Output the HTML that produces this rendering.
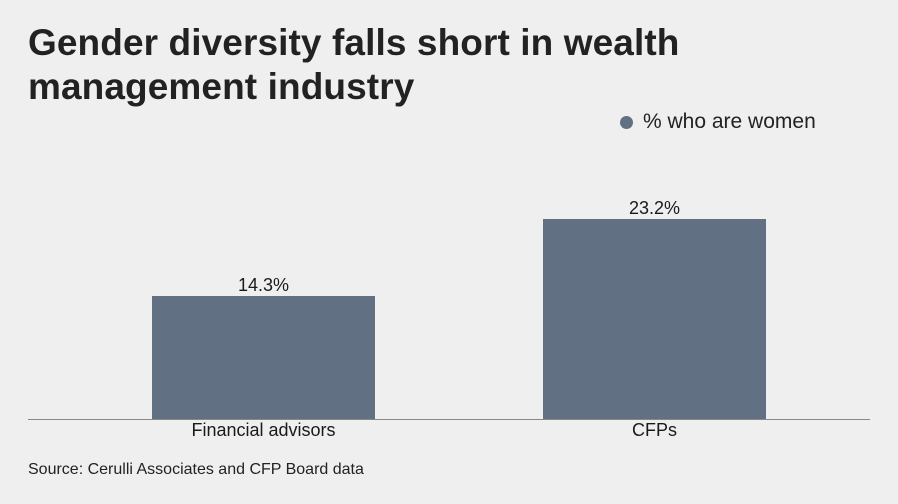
<!DOCTYPE html>
<html><head><meta charset="utf-8"><style>
body{margin:0;width:898px;height:504px;background:#efefef;font-family:"Liberation Sans",sans-serif;position:relative;overflow:hidden;color:#1a1a1a}
.t{position:absolute;left:28px;top:21px;font-size:37px;font-weight:bold;line-height:44px;color:#222;letter-spacing:0.1px}
.bar{position:absolute;background:#627084}
.lbl{position:absolute;font-size:18px;text-align:center;width:223px}
</style></head><body>
<div class="t">Gender diversity falls short in wealth<br>management industry</div>
<div style="position:absolute;left:620px;top:116px;width:13px;height:13px;border-radius:50%;background:#627084"></div>
<div style="position:absolute;left:643px;top:110px;font-size:21px;color:#222">% who are women</div>
<div class="bar" style="left:152px;top:296px;width:223px;height:123px"></div>
<div class="bar" style="left:543px;top:219px;width:223px;height:200px"></div>
<div class="lbl" style="left:152px;top:275px">14.3%</div>
<div class="lbl" style="left:543px;top:198px">23.2%</div>
<div style="position:absolute;left:28px;top:419px;width:842px;height:1px;background:#888"></div>
<div class="lbl" style="left:152px;top:420px">Financial advisors</div>
<div class="lbl" style="left:543px;top:420px">CFPs</div>
<div style="position:absolute;left:28px;top:461px;font-size:16px;color:#222">Source: Cerulli Associates and CFP Board data</div>
</body></html>
